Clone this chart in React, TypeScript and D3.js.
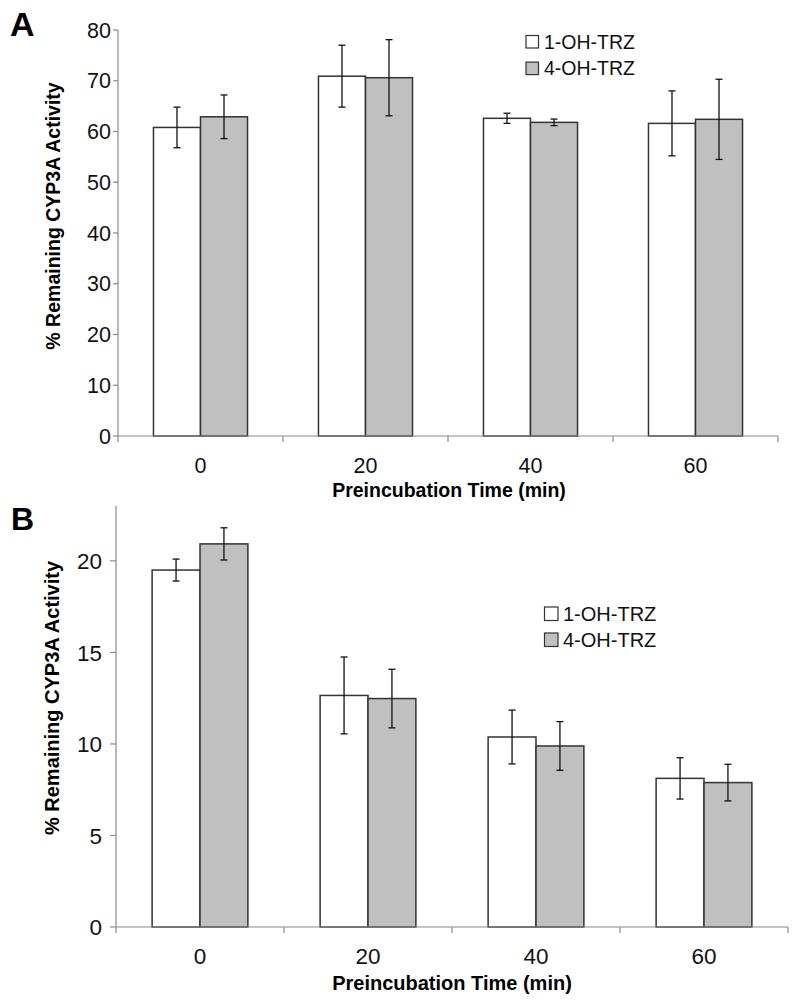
import React from "react";
import * as d3 from "d3";

const categories = ["0", "20", "40", "60"];
const seriesNames = ["1-OH-TRZ", "4-OH-TRZ"];

// Panel A
const aOH1 = [60.8, 70.9, 62.6, 61.6];
const aOH1Err = [4.0, 6.1, 1.0, 6.4];
const aOH4 = [62.9, 70.6, 61.8, 62.4];
const aOH4Err = [4.3, 7.5, 0.65, 7.9];
const aTicks = [0, 10, 20, 30, 40, 50, 60, 70, 80];

// Panel B
const bOH1 = [19.5, 12.65, 10.38, 8.12];
const bOH1Err = [0.6, 2.1, 1.47, 1.13];
const bOH4 = [20.93, 12.48, 9.89, 7.89];
const bOH4Err = [0.88, 1.6, 1.33, 1.0];
const bTicks = [0, 5, 10, 15, 20];

const FILLS = ["#ffffff", "#c0c0c0"];
const FONT = "'Liberation Sans', Arial, Helvetica, sans-serif";

type PanelProps = {
  letter: string;
  letterPos: [number, number];
  letterSize: number;
  left: number;
  right: number;
  top: number;
  bottom: number;
  yMax: number;
  ticks: number[];
  s1: number[];
  e1: number[];
  s2: number[];
  e2: number[];
  tickFont: number;
  tickLabelRight: number;
  tickLen: number;
  xTickBaseline: number;
  xLabelBaseline: number;
  xLabelCenter: number;
  yLabelCenter: number;
  yLabelX: number;
  labelFont: number;
  legendX: number;
  legendY: number;
  legendBox: number;
  legendGap: number;
  legendFont: number;
  legendTextX: number;
};

function Panel(p: PanelProps) {
  const y = d3.scaleLinear().domain([0, p.yMax]).range([p.bottom, p.top]);
  const x = d3.scaleBand().domain(categories).range([p.left, p.right]).padding(0);
  const bw = x.bandwidth();
  const barW = bw * 0.285;
  const series = [
    { vals: p.s1, errs: p.e1 },
    { vals: p.s2, errs: p.e2 },
  ];
  const boundaries = [...categories.map((c) => x(c) as number), p.right];
  return (
    <g>
      <text x={p.letterPos[0]} y={p.letterPos[1]} fontFamily={FONT} fontWeight="bold" fontSize={p.letterSize} fill="#000">
        {p.letter}
      </text>
      {/* y axis */}
      <line x1={p.left} x2={p.left} y1={p.top} y2={p.bottom} stroke="#8a8a8a" strokeWidth={1.2} />
      {p.ticks.map((t) => (
        <g key={"yt" + t}>
          <line x1={p.left - p.tickLen} x2={p.left} y1={y(t)} y2={y(t)} stroke="#8a8a8a" strokeWidth={1.2} />
          <text x={p.tickLabelRight} y={y(t)} dy="0.36em" textAnchor="end" fontFamily={FONT} fontSize={p.tickFont} fill="#111">
            {t}
          </text>
        </g>
      ))}
      {/* bars */}
      {categories.map((c, i) => {
        const cx = (x(c) as number) + bw / 2;
        return series.map((s, k) => {
          const x0 = cx - barW + k * barW;
          const v = s.vals[i];
          const e = s.errs[i];
          const bx = x0 + barW / 2;
          return (
            <g key={c + "-" + k}>
              <rect x={x0} y={y(v)} width={barW} height={y(0) - y(v)} fill={FILLS[k]} stroke="#333" strokeWidth={1.5} />
              <line x1={bx} x2={bx} y1={y(v + e)} y2={y(v - e)} stroke="#111" strokeWidth={1.3} />
              <line x1={bx - 3.5} x2={bx + 3.5} y1={y(v + e)} y2={y(v + e)} stroke="#111" strokeWidth={1.3} />
              <line x1={bx - 3.5} x2={bx + 3.5} y1={y(v - e)} y2={y(v - e)} stroke="#111" strokeWidth={1.3} />
            </g>
          );
        });
      })}
      {/* x axis */}
      <line x1={p.left} x2={p.right} y1={p.bottom} y2={p.bottom} stroke="#8a8a8a" strokeWidth={1.2} />
      {boundaries.map((bx, i) => (
        <line key={"xt" + i} x1={bx} x2={bx} y1={p.bottom} y2={p.bottom + 6} stroke="#8a8a8a" strokeWidth={1.2} />
      ))}
      {categories.map((c) => (
        <text key={"xl" + c} x={(x(c) as number) + bw / 2} y={p.xTickBaseline} textAnchor="middle" fontFamily={FONT} fontSize={p.tickFont} fill="#111">
          {c}
        </text>
      ))}
      <text x={p.xLabelCenter} y={p.xLabelBaseline} textAnchor="middle" fontFamily={FONT} fontWeight="bold" fontSize={p.labelFont} fill="#000">
        Preincubation Time (min)
      </text>
      <text
        transform={`translate(${p.yLabelX},${p.yLabelCenter}) rotate(-90)`}
        textAnchor="middle"
        fontFamily={FONT}
        fontWeight="bold"
        fontSize={p.labelFont}
        fill="#000"
      >
        % Remaining CYP3A Activity
      </text>
      {/* legend */}
      {seriesNames.map((n, k) => (
        <g key={"lg" + k}>
          <rect
            x={p.legendX}
            y={p.legendY + k * p.legendGap}
            width={p.legendBox}
            height={p.legendBox}
            fill={FILLS[k]}
            stroke="#333"
            strokeWidth={1.2}
          />
          <text
            x={p.legendTextX}
            y={p.legendY + k * p.legendGap + p.legendBox / 2}
            dy="0.36em"
            fontFamily={FONT}
            fontSize={p.legendFont}
            fill="#111"
          >
            {n}
          </text>
        </g>
      ))}
    </g>
  );
}

export default function App() {
  return (
    <svg width={800} height={1002} style={{ position: "absolute", left: 0, top: 0, background: "#fff" }}>
      <rect x={0} y={0} width={800} height={1002} fill="#fff" />
      <Panel
        letter="A"
        letterPos={[10, 36]}
        letterSize={34}
        left={118}
        right={778}
        top={30}
        bottom={436}
        yMax={80}
        ticks={aTicks}
        s1={aOH1}
        e1={aOH1Err}
        s2={aOH4}
        e2={aOH4Err}
        tickFont={21.5}
        tickLabelRight={111}
        tickLen={5}
        xTickBaseline={473}
        xLabelBaseline={497}
        xLabelCenter={449}
        yLabelCenter={216}
        yLabelX={60}
        labelFont={19.5}
        legendX={526}
        legendY={35.5}
        legendBox={12.5}
        legendGap={26.6}
        legendFont={19.5}
        legendTextX={544}
      />
      <Panel
        letter="B"
        letterPos={[11, 530]}
        letterSize={32}
        left={116}
        right={788}
        top={506}
        bottom={927}
        yMax={23}
        ticks={bTicks}
        s1={bOH1}
        e1={bOH1Err}
        s2={bOH4}
        e2={bOH4Err}
        tickFont={22.5}
        tickLabelRight={102}
        tickLen={6}
        xTickBaseline={964}
        xLabelBaseline={990}
        xLabelCenter={452}
        yLabelCenter={698}
        yLabelX={59}
        labelFont={20}
        legendX={544.5}
        legendY={607}
        legendBox={13.5}
        legendGap={26}
        legendFont={20}
        legendTextX={563}
      />
    </svg>
  );
}
